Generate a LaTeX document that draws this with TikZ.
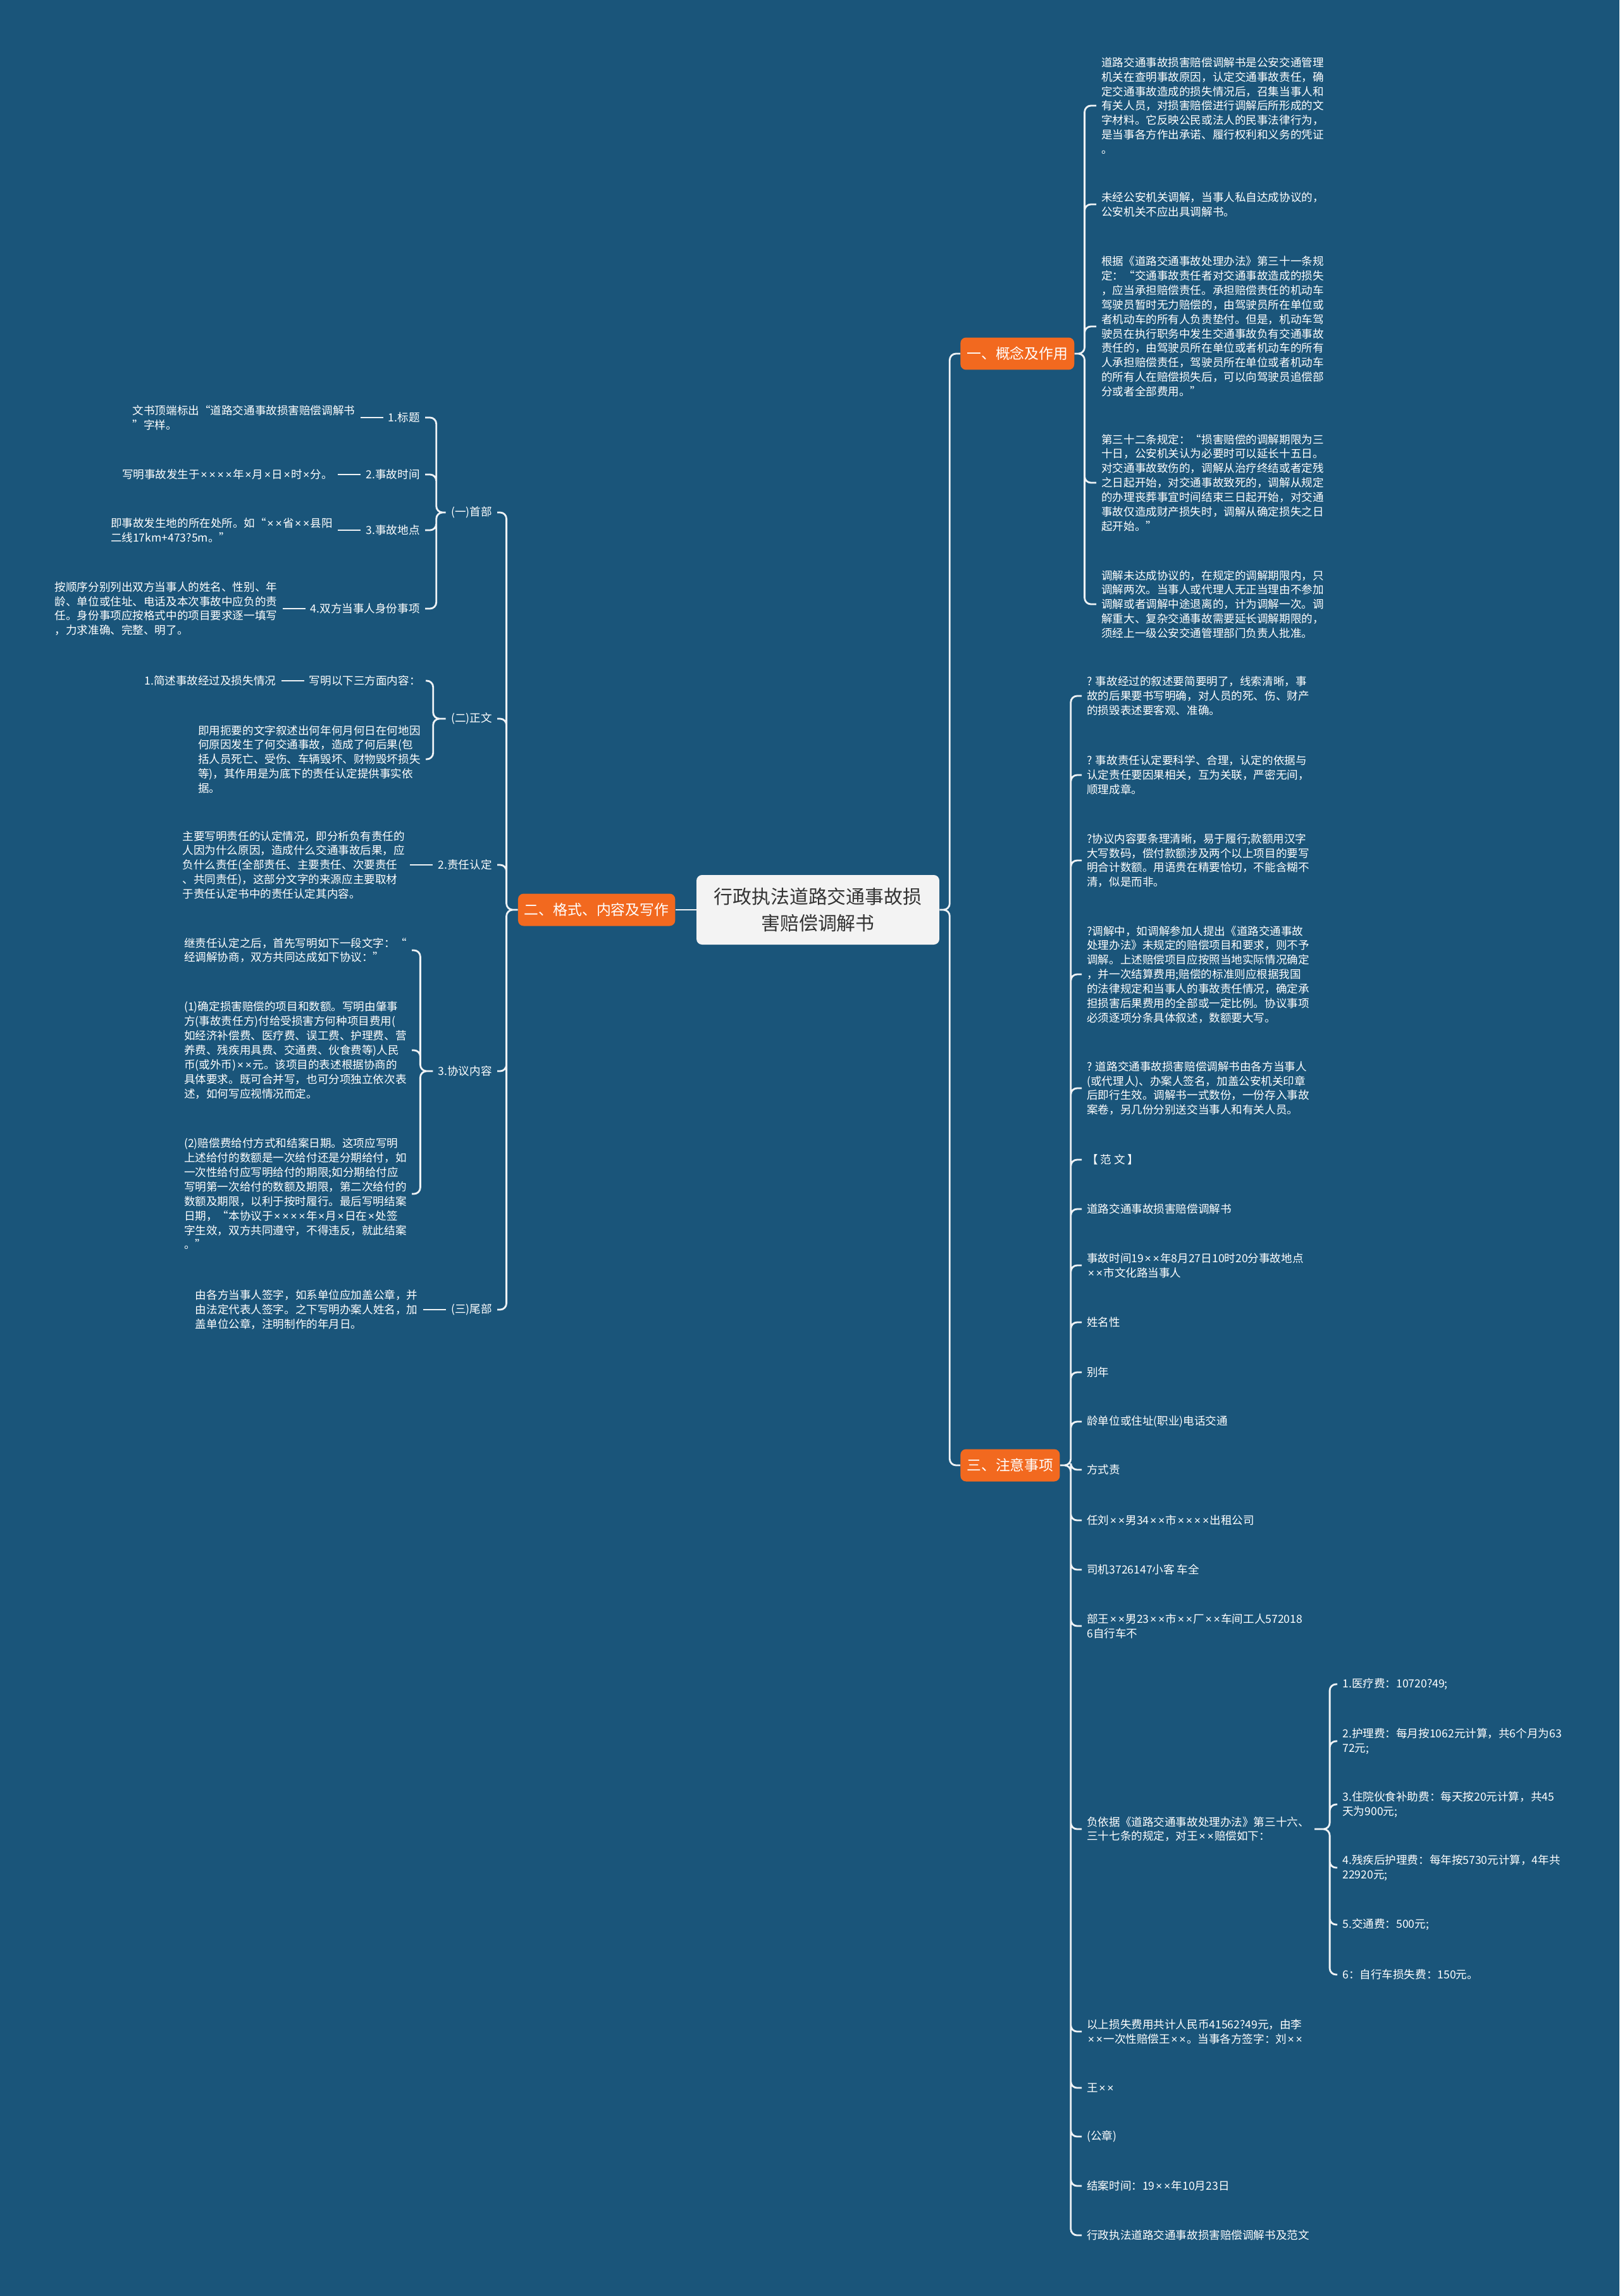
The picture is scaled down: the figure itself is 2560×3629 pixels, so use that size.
\documentclass[tikz,border=0pt]{standalone}
\usepackage{fontspec}
\setmainfont{Noto Sans CJK SC}
\newfontfamily\latinfont{Liberation Sans}
\usetikzlibrary{positioning}

\definecolor{mapbg}{HTML}{1A557A}
\definecolor{maporange}{HTML}{F2691F}
\definecolor{rootfill}{HTML}{F3F3F3}
\definecolor{rootink}{HTML}{333333}
\definecolor{mapline}{HTML}{EEF2F5}

% narrow multiplication sign, as in the picture
\catcode`\×=\active
\protected\def×{{\kern0.08em\latinfont\char"00D7\kern0.08em}}

\begin{document}
\begin{tikzpicture}[
    x=0.02cm, y=-0.02cm,
    root/.style={rectangle, rounded corners=5pt, fill=rootfill, text=rootink, align=center,
                 font=\fontsize{17}{23.5}\selectfont, minimum width=7.68cm, minimum height=2.2cm},
    topic/.style={rectangle, rounded corners=5pt, fill=maporange, text=white,
                  font=\fontsize{13}{16}\selectfont, inner xsep=0.2cm, minimum height=1.02cm},
    txt/.style={text=white, align=left, font=\fontsize{10}{13}\selectfont,
                inner xsep=0.16cm, inner ysep=0.05cm},
    link/.style={draw=mapline, line width=1.6pt, rounded corners=0.2cm},
    node distance=0.72cm,
]
    \fill[mapbg] (0,0) rectangle (2560,3629);
    \useasboundingbox (0,0) rectangle (2560,3629);

    % Centre and main topics
    \node[root] (root) at (1293,1438) {行政执法道路交通事故损\\害赔偿调解书};
    \node[topic, left=0.66cm of root] (g2) {二、格式、内容及写作};
    \node[topic, anchor=west] (g1) at (1518,559) {一、概念及作用};
    \node[topic, anchor=west] (g3) at (1518,2316) {三、注意事项};

    \draw[link] (root.west) -- (g2.east);
    \draw[link] (root.east) -- ++(16,0) |- (g1.west)
                (root.east) -- ++(16,0) |- (g3.west);

    % Concept and purpose
    \node[txt, anchor=west] (r1) at (1733,167) {道路交通事故损害赔偿调解书是公安交通管理\\机关在查明事故原因，认定交通事故责任，确\\定交通事故造成的损失情况后，召集当事人和\\有关人员，对损害赔偿进行调解后所形成的文\\字材料。它反映公民或法人的民事法律行为，\\是当事各方作出承诺、履行权利和义务的凭证\\。};
    \node[txt, anchor=west] (r2) at (1733,323) {未经公安机关调解，当事人私自达成协议的，\\公安机关不应出具调解书。};
    \node[txt, anchor=west] (r3) at (1733,516) {根据《道路交通事故处理办法》第三十一条规\\定：“交通事故责任者对交通事故造成的损失\\，应当承担赔偿责任。承担赔偿责任的机动车\\驾驶员暂时无力赔偿的，由驾驶员所在单位或\\者机动车的所有人负责垫付。但是，机动车驾\\驶员在执行职务中发生交通事故负有交通事故\\责任的，由驾驶员所在单位或者机动车的所有\\人承担赔偿责任，驾驶员所在单位或者机动车\\的所有人在赔偿损失后，可以向驾驶员追偿部\\分或者全部费用。”};
    \node[txt, anchor=west] (r4) at (1733,763) {第三十二条规定：“损害赔偿的调解期限为三\\十日，公安机关认为必要时可以延长十五日。\\对交通事故致伤的，调解从治疗终结或者定残\\之日起开始，对交通事故致死的，调解从规定\\的办理丧葬事宜时间结束三日起开始，对交通\\事故仅造成财产损失时，调解从确定损失之日\\起开始。”};
    \node[txt, anchor=west] (r5) at (1733,955) {调解未达成协议的，在规定的调解期限内，只\\调解两次。当事人或代理人无正当理由不参加\\调解或者调解中途退离的，计为调解一次。调\\解重大、复杂交通事故需要延长调解期限的，\\须经上一级公安交通管理部门负责人批准。};

    \draw[link] (g1.east) -- ++(16,0) |- (r1.west)
                (g1.east) -- ++(16,0) |- (r2.west)
                (g1.east) -- ++(16,0) |- (r3.west)
                (g1.east) -- ++(16,0) |- (r4.west)
                (g1.east) -- ++(16,0) |- (r5.west);

    % Points to note, sample text
    \node[txt, anchor=west] (s1) at (1710,1100) {? 事故经过的叙述要简要明了，线索清晰，事\\故的后果要书写明确，对人员的死、伤、财产\\的损毁表述要客观、准确。};
    \node[txt, anchor=west] (s2) at (1710,1225) {? 事故责任认定要科学、合理，认定的依据与\\认定责任要因果相关，互为关联，严密无间，\\顺理成章。};
    \node[txt, anchor=west] (s3) at (1710,1360) {?协议内容要条理清晰，易于履行;款额用汉字\\大写数码，偿付款额涉及两个以上项目的要写\\明合计数额。用语贵在精要恰切，不能含糊不\\清，似是而非。};
    \node[txt, anchor=west] (s4) at (1710,1540) {?调解中，如调解参加人提出《道路交通事故\\处理办法》未规定的赔偿项目和要求，则不予\\调解。上述赔偿项目应按照当地实际情况确定\\，并一次结算费用;赔偿的标准则应根据我国\\的法律规定和当事人的事故责任情况，确定承\\担损害后果费用的全部或一定比例。协议事项\\必须逐项分条具体叙述，数额要大写。};
    \node[txt, anchor=west] (s5) at (1710,1720) {? 道路交通事故损害赔偿调解书由各方当事人\\(或代理人)、办案人签名，加盖公安机关印章\\后即行生效。调解书一式数份，一份存入事故\\案卷，另几份分别送交当事人和有关人员。};
    \node[txt, anchor=west] (s6) at (1710,1833) {【 范 文 】};
    \node[txt, anchor=west] (s7) at (1710,1911) {道路交通事故损害赔偿调解书};
    \node[txt, anchor=west] (s8) at (1710,2000) {事故时间19××年8月27日10时20分事故地点\\××市文化路当事人};
    \node[txt, anchor=west] (s9) at (1710,2090) {姓名性};
    \node[txt, anchor=west] (s10) at (1710,2169) {别年};
    \node[txt, anchor=west] (s11) at (1710,2247) {龄单位或住址(职业)电话交通};
    \node[txt, anchor=west] (s12) at (1710,2323) {方式责};
    \node[txt, anchor=west] (s13) at (1710,2403) {任刘××男34××市××××出租公司};
    \node[txt, anchor=west] (s14) at (1710,2481) {司机3726147小客 车全};
    \node[txt, anchor=west] (s15) at (1710,2570) {部王××男23××市××厂××车间工人572018\\6自行车不};
    \node[txt, anchor=west] (s16) at (1710,2891) {负依据《道路交通事故处理办法》第三十六、\\三十七条的规定，对王××赔偿如下：};
    \node[txt, anchor=west] (s17) at (1710,3211) {以上损失费用共计人民币41562?49元，由李\\××一次性赔偿王××。当事各方签字：刘××};
    \node[txt, anchor=west] (s18) at (1710,3300) {王××};
    \node[txt, anchor=west] (s19) at (1710,3377) {(公章)};
    \node[txt, anchor=west] (s20) at (1710,3455) {结案时间：19××年10月23日};
    \node[txt, anchor=west] (s21) at (1710,3533) {行政执法道路交通事故损害赔偿调解书及范文};

    \draw[link] (g3.east) -- ++(17,0) |- (s1.west)
                (g3.east) -- ++(17,0) |- (s2.west)
                (g3.east) -- ++(17,0) |- (s3.west)
                (g3.east) -- ++(17,0) |- (s4.west)
                (g3.east) -- ++(17,0) |- (s5.west)
                (g3.east) -- ++(17,0) |- (s6.west)
                (g3.east) -- ++(17,0) |- (s7.west)
                (g3.east) -- ++(17,0) |- (s8.west)
                (g3.east) -- ++(17,0) |- (s9.west)
                (g3.east) -- ++(17,0) |- (s10.west)
                (g3.east) -- ++(17,0) |- (s11.west)
                (g3.east) -- ++(17,0) |- (s12.west)
                (g3.east) -- ++(17,0) |- (s13.west)
                (g3.east) -- ++(17,0) |- (s14.west)
                (g3.east) -- ++(17,0) |- (s15.west)
                (g3.east) -- ++(17,0) |- (s16.west)
                (g3.east) -- ++(17,0) |- (s17.west)
                (g3.east) -- ++(17,0) |- (s18.west)
                (g3.east) -- ++(17,0) |- (s19.west)
                (g3.east) -- ++(17,0) |- (s20.west)
                (g3.east) -- ++(17,0) |- (s21.west);

    % Compensation items
    \node[txt, anchor=west] (c1) at (2114,2662) {1.医疗费：10720?49;};
    \node[txt, anchor=west] (c2) at (2114,2752) {2.护理费：每月按1062元计算，共6个月为63\\72元;};
    \node[txt, anchor=west] (c3) at (2114,2852) {3.住院伙食补助费：每天按20元计算，共45\\天为900元;};
    \node[txt, anchor=west] (c4) at (2114,2952) {4.残疾后护理费：每年按5730元计算，4年共\\22920元;};
    \node[txt, anchor=west] (c5) at (2114,3042) {5.交通费：500元;};
    \node[txt, anchor=west] (c6) at (2114,3121) {6：自行车损失费：150元。};

    \draw[link] (s16.east) -- ++(24,0) |- (c1.west)
                (s16.east) -- ++(24,0) |- (c2.west)
                (s16.east) -- ++(24,0) |- (c3.west)
                (s16.east) -- ++(24,0) |- (c4.west)
                (s16.east) -- ++(24,0) |- (c5.west)
                (s16.east) -- ++(24,0) |- (c6.west);

    % Format, content and writing
    \node[txt, anchor=east] (a1) at (786,810) {(一)首部};
    \node[txt, anchor=east] (a2) at (786,1136) {(二)正文};
    \node[txt, anchor=east] (a3) at (786,1367) {2.责任认定};
    \node[txt, anchor=east] (a4) at (786,1693) {3.协议内容};
    \node[txt, anchor=east] (a5) at (786,2070) {(三)尾部};

    \draw[link] (g2.west) -- ++(-18,0) |- (a1.east)
                (g2.west) -- ++(-18,0) |- (a2.east)
                (g2.west) -- ++(-18,0) |- (a3.east)
                (g2.west) -- ++(-18,0) |- (a4.east)
                (g2.west) -- ++(-18,0) |- (a5.east);

    % Head part
    \node[txt, anchor=east] (b1) at (672,660) {1.标题};
    \node[txt, anchor=east] (b2) at (672,750) {2.事故时间};
    \node[txt, anchor=east] (b3) at (672,838) {3.事故地点};
    \node[txt, anchor=east] (b4) at (672,962) {4.双方当事人身份事项};
    \node[txt, left=of b1] (b1t) {文书顶端标出“道路交通事故损害赔偿调解书\\”字样。};
    \node[txt, left=of b2] (b2t) {写明事故发生于××××年×月×日×时×分。};
    \node[txt, left=of b3] (b3t) {即事故发生地的所在处所。如“××省××县阳\\二线17km+473?5m。”};
    \node[txt, left=of b4] (b4t) {按顺序分别列出双方当事人的姓名、性别、年\\龄、单位或住址、电话及本次事故中应负的责\\任。身份事项应按格式中的项目要求逐一填写\\，力求准确、完整、明了。};

    \draw[link] (a1.west) -- ++(-15,0) |- (b1.east)
                (a1.west) -- ++(-15,0) |- (b2.east)
                (a1.west) -- ++(-15,0) |- (b3.east)
                (a1.west) -- ++(-15,0) |- (b4.east);
    \draw[link] (b1t) -- (b1);
    \draw[link] (b2t) -- (b2);
    \draw[link] (b3t) -- (b3);
    \draw[link] (b4t) -- (b4);

    % Body part
    \node[txt, anchor=east] (b5) at (673,1076) {写明以下三方面内容：};
    \node[txt, anchor=east] (b6) at (673,1200) {即用扼要的文字叙述出何年何月何日在何地因\\何原因发生了何交通事故，造成了何后果(包\\括人员死亡、受伤、车辆毁坏、财物毁坏损失\\等)，其作用是为底下的责任认定提供事实依\\据。};
    \node[txt, left=of b5] (b5t) {1.简述事故经过及损失情况};
    \node[txt, left=of a3] (a3t) {主要写明责任的认定情况，即分析负有责任的\\人因为什么原因，造成什么交通事故后果，应\\负什么责任(全部责任、主要责任、次要责任\\、共同责任)，这部分文字的来源应主要取材\\于责任认定书中的责任认定其内容。};

    \draw[link] (a2.west) -- ++(-20,0) |- (b5.east)
                (a2.west) -- ++(-20,0) |- (b6.east);
    \draw[link] (b5t) -- (b5);
    \draw[link] (a3t) -- (a3);

    % Agreement content
    \node[txt, anchor=east] (b7) at (651,1502) {继责任认定之后，首先写明如下一段文字：“\\经调解协商，双方共同达成如下协议：”};
    \node[txt, anchor=east] (b8) at (651,1660) {(1)确定损害赔偿的项目和数额。写明由肇事\\方(事故责任方)付给受损害方何种项目费用(\\如经济补偿费、医疗费、误工费、护理费、营\\养费、残疾用具费、交通费、伙食费等)人民\\币(或外币)××元。该项目的表述根据协商的\\具体要求。既可合并写，也可分项独立依次表\\述，如何写应视情况而定。};
    \node[txt, anchor=east] (b9) at (651,1887) {(2)赔偿费给付方式和结案日期。这项应写明\\上述给付的数额是一次给付还是分期给付，如\\一次性给付应写明给付的期限;如分期给付应\\写明第一次给付的数额及期限，第二次给付的\\数额及期限，以利于按时履行。最后写明结案\\日期，“本协议于××××年×月×日在×处签\\字生效，双方共同遵守，不得违反，就此结案\\。”};

    \draw[link] (a4.west) -- ++(-20,0) |- (b7.east)
                (a4.west) -- ++(-20,0) |- (b8.east)
                (a4.west) -- ++(-20,0) |- (b9.east);

    % Closing part
    \node[txt, left=of a5] (a5t) {由各方当事人签字，如系单位应加盖公章，并\\由法定代表人签字。之下写明办案人姓名，加\\盖单位公章，注明制作的年月日。};
    \draw[link] (a5t) -- (a5);
\end{tikzpicture}
\end{document}
